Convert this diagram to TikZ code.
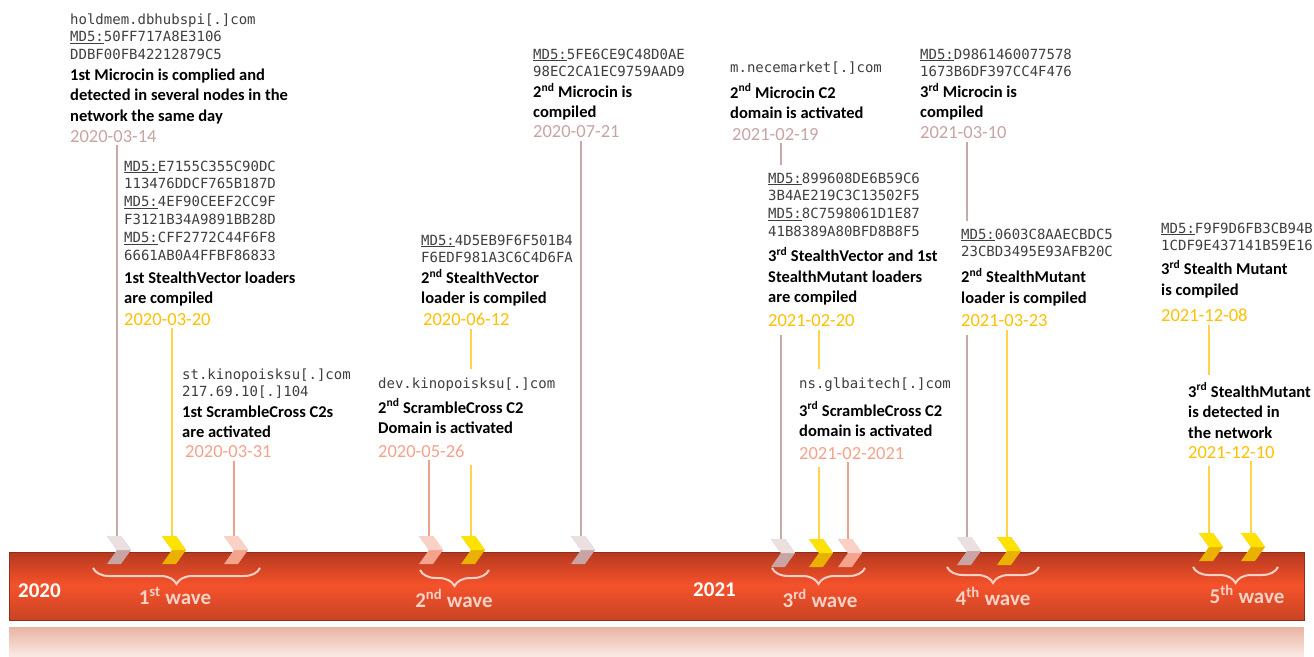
\documentclass[tikz,border=0pt]{standalone}
\usepackage{fontspec}
\usepackage{xcolor}
\usepackage{tikz}
\usetikzlibrary{decorations.pathreplacing}
\setmainfont{Carlito}
\setmonofont{DejaVu Sans Mono}
\definecolor{mauvetext}{HTML}{C9A4A4}
\definecolor{goldtext}{HTML}{FFC000}
\definecolor{salmontext}{HTML}{F4A38D}
\definecolor{mauveline}{HTML}{C7A9A9}
\definecolor{goldline}{HTML}{FFD34D}
\definecolor{salmonline}{HTML}{F2A08C}
\definecolor{hashgray}{HTML}{3F3F3F}
\definecolor{barTop}{HTML}{B5391F}
\definecolor{barMid}{HTML}{F5522B}
\definecolor{barBot}{HTML}{C94424}
\definecolor{reflTop}{HTML}{E8B4A4}
\definecolor{reflBot}{HTML}{FAE9E3}
\definecolor{wavetext}{HTML}{F8D2C6}
\newcommand{\hsh}[1]{{\fontsize{14}{17.8}\selectfont\ttfamily\leavevmode\color{hashgray}#1\par}}
\newcommand{\txt}[1]{{\fontsize{16.5}{20.5}\selectfont\bfseries\leavevmode #1\par}}
\newcommand{\when}[2]{{\fontsize{18.5}{21}\selectfont\leavevmode\color{#1}#2\par}}
\newcommand{\md}{\underline{MD5:}}% hash prefix
\newcommand{\sups}[1]{\textsuperscript{#1}}
\newcommand{\chevron}[3]{% #1 top point, #2 light face, #3 dark face
\fill[#3] ([xshift=-10pt]#1) -- ++(14,0) -- ++(10,14) -- ++(-10,14) -- ++(-14,0) -- ++(10,-14) -- cycle;
\fill[#2] ([xshift=-10pt]#1) -- ++(14,0) -- ++(10,14) -- ++(-14,0) -- cycle;
}
\tikzstyle{evt} =[
    anchor=base west,
    inner xsep=0pt,
    inner ysep=3pt
    ]
\tikzstyle{evtmask} =[evt, fill=white, inner ysep=8pt]
\tikzstyle{mauvelink} =[draw=mauveline, line width=1.8pt]
\tikzstyle{goldlink} =[draw=goldline, line width=1.8pt]
\tikzstyle{salmonlink} =[draw=salmonline, line width=1.8pt]
\tikzstyle{year} =[anchor=base west, inner sep=0pt, text=white,
    font=\fontsize{21}{21}\selectfont\bfseries]
\tikzstyle{wave} =[anchor=base, inner sep=0pt, text=wavetext,
    font=\fontsize{21}{21}\selectfont\bfseries]
\tikzstyle{wavebrace} =[draw=wavetext, line width=2pt, decorate,
    decoration={brace, mirror, amplitude=16pt}]

\begin{document}
\begin{tikzpicture}[x=1pt,y=-1pt]
\path[use as bounding box, fill=white] (0,0) rectangle (1314,656);

% timeline bar and its reflection
\foreach \k [evaluate=\k as \pct using \k*100/29] in {0,...,29}
    \fill[reflBot!\pct!reflTop] (9,627+\k) rectangle (1304,628.2+\k);
\foreach \k [evaluate=\k as \pct using \k*100/33] in {0,...,33}
    \fill[barMid!\pct!barTop] (9,552+\k) rectangle (1304,553.2+\k);
\foreach \k [evaluate=\k as \pct using \k*100/35] in {0,...,34}
    \fill[barBot!\pct!barMid] (9,585+\k) rectangle (1304,586.2+\k);
\draw[barTop!80!black, line width=0.4pt] (9,552) rectangle (1304,620);
\node[year] (y2020) at (18,597) {2020};
\node[year] (y2021) at (693,596) {2021};

% waves
\draw[wavebrace] (93,568) -- (260,568);
\node[wave] (w1) at (175,604) {1\sups{st} wave};
\draw[wavebrace] (420,570) -- (489,570);
\node[wave] (w2) at (454,607) {2\sups{nd} wave};
\draw[wavebrace] (772,568) -- (865,568);
\node[wave] (w3) at (820,607) {3\sups{rd} wave};
\draw[wavebrace] (947,567) -- (1039,567);
\node[wave] (w4) at (993,605) {4\sups{th} wave};
\draw[wavebrace] (1193,567) -- (1278,567);
\node[wave] (w5) at (1247,603) {5\sups{th} wave};

% markers on the bar
\coordinate (mic1tip) at (117,536);
\coordinate (sv1tip) at (172,536);
\coordinate (sc1tip) at (234,536);
\coordinate (sc2tip) at (429,536);
\coordinate (sv2tip) at (471,536);
\coordinate (mic2tip) at (581,536);
\coordinate (mcc2tip) at (781,539);
\coordinate (sv3tip) at (819,539);
\coordinate (sc3tip) at (848,539);
\coordinate (mic3tip) at (967,537);
\coordinate (sm2tip) at (1007,537);
\coordinate (sm3tip) at (1209,533);
\coordinate (sm3dtip) at (1251,533);
\foreach \t in {mic1tip,mic2tip,mcc2tip,mic3tip}
    \chevron{\t}{mauvetext!35!white}{mauvetext};
\foreach \t in {sv1tip,sv2tip,sv3tip,sm2tip,sm3tip,sm3dtip}
    \chevron{\t}{goldtext!45!yellow}{goldtext!92!black};
\foreach \t in {sc1tip,sc2tip,sc3tip}
    \chevron{\t}{salmontext!50!white}{salmontext};

% events
\node[evt] (mic1) at (70,24) {\begin{minipage}[t]{260pt}\raggedright
\hsh{holdmem.dbhubspi[.]com\\\md 50FF717A8E3106\\DDBF00FB42212879C5}
\txt{1st Microcin is complied and\\detected in several nodes in the\\network the same day}
\when{mauvetext}{2020-03-14}
\end{minipage}};
\node[evt] (sv1) at (124,171) {\begin{minipage}[t]{260pt}\raggedright
\hsh{\md E7155C355C90DC\\113476DDCF765B187D\\\md 4EF90CEEF2CC9F\\F3121B34A9891BB28D\\\md CFF2772C44F6F8\\6661AB0A4FFBF86833}
\vspace{2.5pt}
\txt{1st StealthVector loaders\\are compiled}
\vspace{0.5pt}
\when{goldtext}{2020-03-20}
\end{minipage}};
\node[evt] (sc1) at (182,379) {\begin{minipage}[t]{230pt}\raggedright
\hsh{st.kinopoisksu[.]com\\217.69.10[.]104}
\txt{1st ScrambleCross C2s\\are activated}
\vspace{-1.5pt}
\when{salmontext}{\hspace*{3pt}2020-03-31}
\end{minipage}};
\node[evt] (sv2) at (421,245) {\begin{minipage}[t]{200pt}\raggedright
\hsh{\md 4D5EB9F6F501B4\\F6EDF981A3C6C4D6FA}
\txt{2\sups{nd} StealthVector\\loader is compiled}
\vspace{0.5pt}
\when{goldtext}{\hspace*{2pt}2020-06-12}
\end{minipage}};
\node[evt] (mic2) at (533,59) {\begin{minipage}[t]{190pt}\raggedright
\hsh{\md 5FE6CE9C48D0AE\\98EC2CA1EC9759AAD9}
\txt{2\sups{nd} Microcin is\\compiled}
\vspace{-1.5pt}
\when{mauvetext}{2020-07-21}
\end{minipage}};
\node[evt] (mcc2) at (730,72) {\begin{minipage}[t]{180pt}\raggedright
\hsh{m.necemarket[.]com}
\vspace{5.5pt}
\txt{2\sups{nd} Microcin C2\\domain is activated}
\vspace{0.5pt}
\when{mauvetext}{\hspace*{2pt}2021-02-19}
\end{minipage}};
\node[evt] (mic3) at (920,59) {\begin{minipage}[t]{190pt}\raggedright
\hsh{\md D9861460077578\\1673B6DF397CC4F476}
\txt{3\sups{rd} Microcin is\\compiled}
\when{mauvetext}{2021-03-10}
\end{minipage}};
\node[evt] (sm3) at (1161,233) {\begin{minipage}[t]{152pt}\raggedright
\hsh{\md F9F9D6FB3CB94B\\1CDF9E437141B59E16}
\vspace{3.5pt}
\txt{3\sups{rd} Stealth Mutant\\is compiled}
\vspace{5.5pt}
\when{goldtext}{2021-12-08}
\end{minipage}};

\draw[mauvelink] (mic1tip) -- (mic1tip |- mic1.south);
\draw[goldlink] (sv1tip) -- (sv1tip |- sv1.south);
\draw[salmonlink] (sc1tip) -- (sc1tip |- sc1.south);
\draw[goldlink] (sv2tip) -- (sv2tip |- sv2.south);
\draw[mauvelink] (mic2tip) -- (mic2tip |- mic2.south);
\draw[mauvelink] (mcc2tip) -- (mcc2tip |- mcc2.south);
\draw[mauvelink] (mic3tip) -- (mic3tip |- mic3.south);
\draw[goldlink] (sm3tip) -- (sm3tip |- sm3.south);

% events that sit over earlier lines
\node[evtmask] (sc2) at (378,388) {\begin{minipage}[t]{180pt}\raggedright
\hsh{dev.kinopoisksu[.]com}
\vspace{4.5pt}
\txt{2\sups{nd} ScrambleCross C2\\Domain is activated}
\vspace{2.5pt}
\when{salmontext}{2020-05-26}
\end{minipage}};
\node[evtmask] (sv3) at (768,183) {\begin{minipage}[t]{178pt}\raggedright
\hsh{\md 899608DE6B59C6\\3B4AE219C3C13502F5\\\md 8C7598061D1E87\\41B8389A80BFD8B8F5}
\vspace{5pt}
\txt{3\sups{rd} StealthVector and 1st\\StealthMutant loaders\\are compiled}
\vspace{3pt}
\when{goldtext}{2021-02-20}
\end{minipage}};
\node[evtmask] (sm2) at (961,239) {\begin{minipage}[t]{165pt}\raggedright
\hsh{\md 0603C8AAECBDC5\\23CBD3495E93AFB20C}
\vspace{5.5pt}
\txt{2\sups{nd} StealthMutant\\loader is compiled}
\vspace{2.5pt}
\when{goldtext}{2021-03-23}
\end{minipage}};
\node[evtmask] (sm3d) at (1188,397) {\begin{minipage}[t]{126pt}\raggedright
\txt{3\sups{rd} StealthMutant\\is detected in\\the network}
\vspace{-1pt}
\when{goldtext}{2021-12-10}
\end{minipage}};

\draw[salmonlink, shorten >=-5pt] (sc2tip) -- (sc2tip |- sc2.south);
\draw[goldlink, shorten >=-5pt] (sv3tip) -- (sv3tip |- sv3.south);
\draw[goldlink, shorten >=-5pt] (sm2tip) -- (sm2tip |- sm2.south);
\draw[goldlink, shorten >=-5pt] (sm3dtip) -- (sm3dtip |- sm3d.south);

\node[evtmask] (sc3) at (799,388) {\begin{minipage}[t]{160pt}\raggedright
\hsh{ns.glbaitech[.]com}
\vspace{7.5pt}
\txt{3\sups{rd} ScrambleCross C2\\domain is activated}
\vspace{1.5pt}
\when{salmontext}{2021-02-2021}
\end{minipage}};
\draw[salmonlink, shorten >=-5pt] (sc3tip) -- (sc3tip |- sc3.south);
\end{tikzpicture}
\end{document}
